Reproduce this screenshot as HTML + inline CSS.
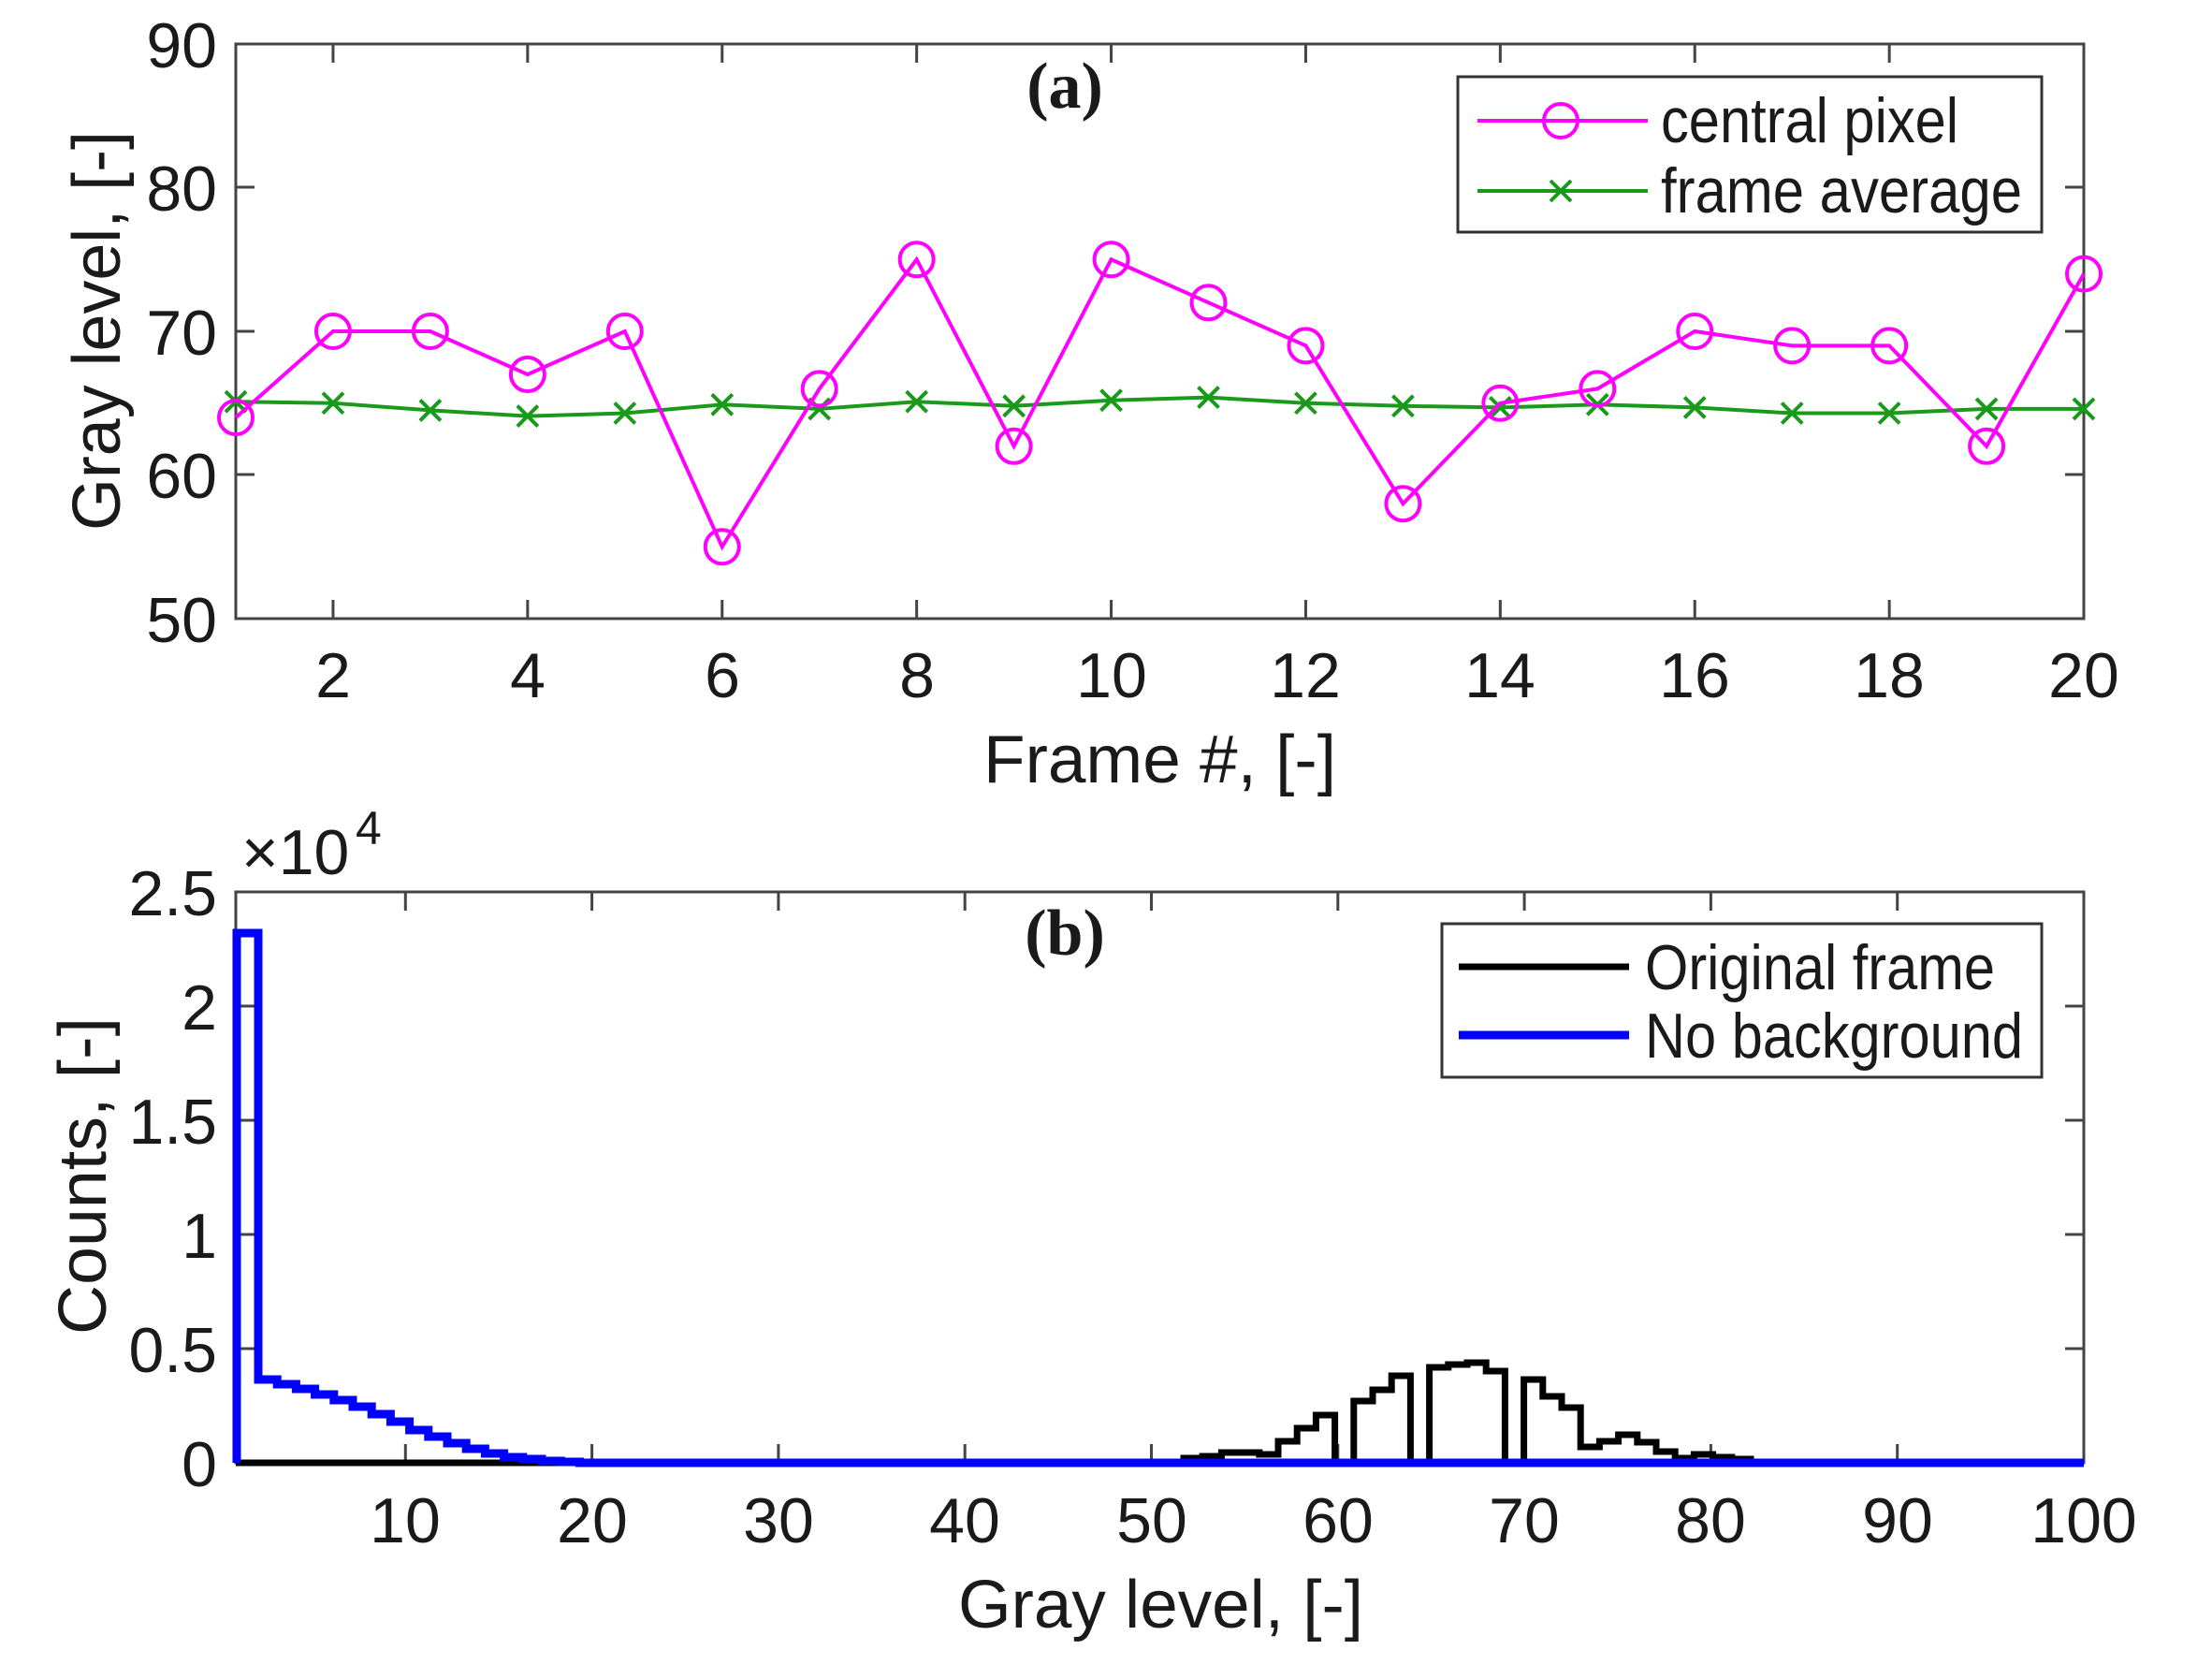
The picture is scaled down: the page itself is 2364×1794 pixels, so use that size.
<!DOCTYPE html>
<html><head><meta charset="utf-8"><style>
html,body{margin:0;padding:0;background:#fff;}
svg{display:block;}
text{font-family:"Liberation Sans",sans-serif;fill:#1a1a1a;}
</style></head><body>
<svg width="2364" height="1794" viewBox="0 0 2364 1794" xmlns="http://www.w3.org/2000/svg">
<rect width="2364" height="1794" fill="#fff"/>
<!-- ===== Top plot (a) ===== -->
<g stroke="#444" stroke-width="3" fill="none">
<rect x="252" y="47" width="1975" height="614"/>
<path d="M355.95,661v-20M563.85,661v-20M771.75,661v-20M979.65,661v-20M1187.55,661v-20M1395.45,661v-20M1603.35,661v-20M1811.25,661v-20M2019.15,661v-20
M355.95,47v20M563.85,47v20M771.75,47v20M979.65,47v20M1187.55,47v20M1395.45,47v20M1603.35,47v20M1811.25,47v20M2019.15,47v20
M252,200h20M252,354h20M252,507h20M2227,200h-20M2227,354h-20M2227,507h-20"/>
</g>
<g font-size="68" text-anchor="end">
<text x="232" y="72">90</text><text x="232" y="225">80</text><text x="232" y="379">70</text><text x="232" y="532">60</text><text x="232" y="686">50</text>
</g>
<g font-size="68" text-anchor="middle">
<text x="356" y="745">2</text><text x="564" y="745">4</text><text x="772" y="745">6</text><text x="980" y="745">8</text><text x="1188" y="745">10</text><text x="1395" y="745">12</text><text x="1603" y="745">14</text><text x="1811" y="745">16</text><text x="2019" y="745">18</text><text x="2227" y="745">20</text>
</g>
<text x="1051" y="836" font-size="72" textLength="377" lengthAdjust="spacingAndGlyphs">Frame #, [-]</text>
<text font-size="72" textLength="427" lengthAdjust="spacingAndGlyphs" transform="translate(128,567) rotate(-90)">Gray level, [-]</text>
<text x="1138" y="115" font-size="70" font-weight="bold" text-anchor="middle" style="font-family:'Liberation Serif',serif">(a)</text>
<!-- green -->
<polyline fill="none" stroke="#1a9a1a" stroke-width="4" points="252,429.2 355.95,430.75 459.9,438.4 563.85,444.6 667.8,441.5 771.75,432.3 875.7,436.9 979.65,429.2 1083.6,433.8 1187.55,427.7 1291.5,424.6 1395.45,430.75 1499.4,433.8 1603.35,435.4 1707.3,432.3 1811.25,435.4 1915.2,441.5 2019.15,441.5 2123.1,436.9 2227,436.9"/>
<g stroke="#1a9a1a" stroke-width="4">
<path d="M241,418.2l22,22m0,-22l-22,22 M344.95,419.75l22,22m0,-22l-22,22 M448.9,427.4l22,22m0,-22l-22,22 M552.85,433.6l22,22m0,-22l-22,22 M656.8,430.5l22,22m0,-22l-22,22 M760.75,421.3l22,22m0,-22l-22,22 M864.7,425.9l22,22m0,-22l-22,22 M968.65,418.2l22,22m0,-22l-22,22 M1072.6,422.8l22,22m0,-22l-22,22 M1176.55,416.7l22,22m0,-22l-22,22 M1280.5,413.6l22,22m0,-22l-22,22 M1384.45,419.75l22,22m0,-22l-22,22 M1488.4,422.8l22,22m0,-22l-22,22 M1592.35,424.4l22,22m0,-22l-22,22 M1696.3,421.3l22,22m0,-22l-22,22 M1800.25,424.4l22,22m0,-22l-22,22 M1904.2,430.5l22,22m0,-22l-22,22 M2008.15,430.5l22,22m0,-22l-22,22 M2112.1,425.9l22,22m0,-22l-22,22 M2216,425.9l22,22m0,-22l-22,22"/>
</g>
<!-- magenta -->
<polyline fill="none" stroke="#ff00ff" stroke-width="4" points="252,446.1 355.95,354 459.9,354 563.85,400.05 667.8,354 771.75,584.25 875.7,415.4 979.65,277.25 1083.6,476.8 1187.55,277.25 1291.5,323.3 1395.45,369.35 1499.4,538.2 1603.35,430.75 1707.3,415.4 1811.25,354 1915.2,369.35 2019.15,369.35 2123.1,476.8 2227,292.6"/>
<g fill="none" stroke="#ff00ff" stroke-width="4">
<circle cx="252" cy="446.1" r="18"/><circle cx="355.95" cy="354" r="18"/><circle cx="459.9" cy="354" r="18"/><circle cx="563.85" cy="400.05" r="18"/><circle cx="667.8" cy="354" r="18"/><circle cx="771.75" cy="584.25" r="18"/><circle cx="875.7" cy="415.4" r="18"/><circle cx="979.65" cy="277.25" r="18"/><circle cx="1083.6" cy="476.8" r="18"/><circle cx="1187.55" cy="277.25" r="18"/><circle cx="1291.5" cy="323.3" r="18"/><circle cx="1395.45" cy="369.35" r="18"/><circle cx="1499.4" cy="538.2" r="18"/><circle cx="1603.35" cy="430.75" r="18"/><circle cx="1707.3" cy="415.4" r="18"/><circle cx="1811.25" cy="354" r="18"/><circle cx="1915.2" cy="369.35" r="18"/><circle cx="2019.15" cy="369.35" r="18"/><circle cx="2123.1" cy="476.8" r="18"/><circle cx="2227" cy="292.6" r="18"/>
</g>
<!-- legend a -->
<rect x="1558" y="82" width="624" height="166" fill="#fff" stroke="#333" stroke-width="3"/>
<line x1="1579" y1="129" x2="1761" y2="129" stroke="#ff00ff" stroke-width="4"/>
<circle cx="1668" cy="129" r="18" fill="none" stroke="#ff00ff" stroke-width="4"/>
<line x1="1579" y1="204" x2="1761" y2="204" stroke="#1a9a1a" stroke-width="4"/>
<path d="M1657,193l22,22m0,-22l-22,22" stroke="#1a9a1a" stroke-width="4"/>
<text x="1775" y="152" font-size="68" textLength="318" lengthAdjust="spacingAndGlyphs">central pixel</text>
<text x="1775" y="227" font-size="68" textLength="386" lengthAdjust="spacingAndGlyphs">frame average</text>

<!-- ===== Bottom plot (b) ===== -->
<g stroke="#444" stroke-width="3" fill="none">
<rect x="252" y="953" width="1975" height="610"/>
<path d="M433.3,1563v-20M632.6,1563v-20M831.9,1563v-20M1031.2,1563v-20M1230.5,1563v-20M1429.8,1563v-20M1629.1,1563v-20M1828.4,1563v-20M2027.7,1563v-20
M433.3,953v20M632.6,953v20M831.9,953v20M1031.2,953v20M1230.5,953v20M1429.8,953v20M1629.1,953v20M1828.4,953v20M2027.7,953v20
M252,1441h20M252,1319h20M252,1197h20M252,1075h20M2227,1441h-20M2227,1319h-20M2227,1197h-20M2227,1075h-20"/>
</g>
<g font-size="68" text-anchor="end">
<text x="232" y="978">2.5</text><text x="232" y="1100">2</text><text x="232" y="1222">1.5</text><text x="232" y="1344">1</text><text x="232" y="1466">0.5</text><text x="232" y="1588">0</text>
</g>
<text x="258" y="934" font-size="68">×10</text>
<text x="380" y="902" font-size="50">4</text>
<g font-size="68" text-anchor="middle">
<text x="433" y="1648">10</text><text x="633" y="1648">20</text><text x="832" y="1648">30</text><text x="1031" y="1648">40</text><text x="1231" y="1648">50</text><text x="1430" y="1648">60</text><text x="1629" y="1648">70</text><text x="1828" y="1648">80</text><text x="2028" y="1648">90</text><text x="2227" y="1648">100</text>
</g>
<text x="1024" y="1739" font-size="72" textLength="433" lengthAdjust="spacingAndGlyphs">Gray level, [-]</text>
<text font-size="72" textLength="339" lengthAdjust="spacingAndGlyphs" transform="translate(113,1426) rotate(-90)">Counts, [-]</text>
<text x="1138" y="1020" font-size="70" font-weight="bold" text-anchor="middle" style="font-family:'Liberation Serif',serif">(b)</text>
<path fill="none" stroke="#000" stroke-width="7" d="M252,1563 H1265 V1558 H1285.2 V1556 H1305.4 V1552 H1345.8 V1554 H1366 V1540 H1386.2 V1526 H1406.4 V1512 H1426.6 V1563 H1446.8 V1497 H1467 V1485 H1487.2 V1470 H1507.4 V1563 H1527.6 V1461 H1547.8 V1458 H1568 V1456 H1588.2 V1465 H1608.4 V1563 H1628.6 V1474 H1648.8 V1492 H1669 V1504 H1689.2 V1546 H1709.4 V1540 H1729.6 V1533 H1749.8 V1541 H1770 V1551 H1790.2 V1558 H1810.4 V1554 H1830.6 V1557 H1850.8 V1559 H1871 V1563 H2227"/>
<path fill="none" stroke="#0000ff" stroke-width="9" d="M253,1563 V997 H276 V1474 H296.2 V1479 H316.4 V1484 H336.6 V1490 H356.8 V1496 H377 V1503 H397.2 V1511 H417.4 V1519 H437.6 V1528 H457.8 V1535 H478 V1542 H498.2 V1548 H518.4 V1553 H538.6 V1557 H558.8 V1559 H579 V1561 H599.2 V1562 H619.4 V1563 H2227"/>
<!-- legend b -->
<rect x="1541" y="987" width="641" height="164" fill="#fff" stroke="#333" stroke-width="3"/>
<line x1="1559" y1="1033" x2="1741" y2="1033" stroke="#000" stroke-width="7"/>
<line x1="1559" y1="1106" x2="1741" y2="1106" stroke="#0000ff" stroke-width="9"/>
<text x="1758" y="1057" font-size="68" textLength="374" lengthAdjust="spacingAndGlyphs">Original frame</text>
<text x="1758" y="1130" font-size="68" textLength="404" lengthAdjust="spacingAndGlyphs">No background</text>
</svg>
</body></html>
